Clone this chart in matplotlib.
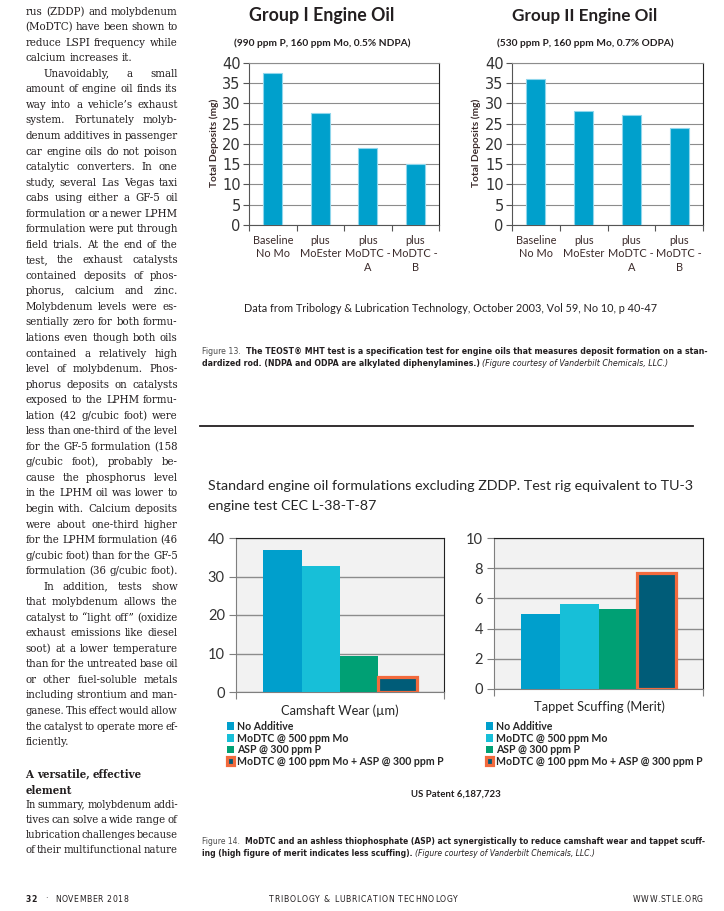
import matplotlib
matplotlib.use('Agg')
import matplotlib.pyplot as plt
from matplotlib import font_manager as fm

# ---- data ----
top_categories = ['Baseline\nNo Mo', 'plus\nMoEster', 'plus\nMoDTC -\nA', 'plus\nMoDTC -\nB']
group1_deposits = [37.5, 27.5, 19, 15]
group2_deposits = [36, 28, 27, 24]

additives = ['No Additive', 'MoDTC @ 500 ppm Mo', 'ASP @ 300 ppm P',
             'MoDTC @ 100 ppm Mo + ASP @ 300 ppm P']
camshaft_wear = [37, 32.7, 9.3, 3.9]
tappet_scuffing = [5.0, 5.6, 5.3, 7.7]

W, H = 724, 911
fig = plt.figure(figsize=(W / 100, H / 100), dpi=100)
fig.patch.set_facecolor('white')
r = fig.canvas.get_renderer()


def condensed(name):
    for f in fm.fontManager.ttflist:
        if f.name == name and f.stretch in ('condensed', 'semi-condensed'):
            return dict(family=name, stretch=f.stretch)
    return None


SERIF = condensed('DejaVu Serif') or dict(family='Liberation Serif')
NARROW = condensed('DejaVu Sans') or dict(family='Liberation Sans')
names = {f.name for f in fm.fontManager.ttflist}
CHART = 'Lato' if 'Lato' in names else 'DejaVu Sans'
INK = '#231f20'


def fx(x):
    return x / W


def fy(y):
    return 1 - y / H


def rect(l, t, rgt, b):
    return [fx(l), fy(b), (rgt - l) / W, (b - t) / H]


def measure(s, **kw):
    t = fig.text(0, 0, s, **kw)
    w = t.get_window_extent(r).width
    t.remove()
    return w


def put(x, y, s, width=None, **kw):
    kw.setdefault('va', 'center')
    t = fig.text(fx(x), fy(y), s, **kw)
    if width:
        w = t.get_window_extent(r).width
        t.set_fontsize(t.get_fontsize() * width / w)
    return t


def space(size, font):
    return measure('a a', fontsize=size, **font) - measure('aa', fontsize=size, **font)


def runs(x, y, pieces, size, font, gaps=None):
    # pieces of differently styled text placed one after another
    sp = space(size, font)
    cx = x
    for i, (s, kw) in enumerate(pieces):
        t = fig.text(fx(cx), fy(y), s, fontsize=size, va='center', **font, **kw)
        cx += t.get_window_extent(r).width
        if i < len(pieces) - 1:
            cx += sp * (gaps[i] if gaps else 1)
    return cx - x


def runs_width(pieces, size, font, gaps=None):
    sp = space(size, font)
    tot = sum(measure(s, fontsize=size, **font, **kw) for s, kw in pieces)
    return tot + sp * (sum(gaps) if gaps else len(pieces) - 1)


def tracked(x0, x1, y, s, size, **kw):
    # letter-spaced caps spread between x0 and x1
    ws = [size * 0.45 if ch == ' ' else measure(ch, fontsize=size, **kw) for ch in s]
    track = max((x1 - x0 - sum(ws)) / max(len(s) - 1, 1), 0.4)
    cx = x0
    for ch, w in zip(s, ws):
        if ch != ' ':
            fig.text(fx(cx), fy(y), ch, fontsize=size, va='center', **kw)
        cx += w + track


# ---- left text column ----
col_l, col_r = 25.5, 177.7
body = [
    ("rus (ZDDP) and molybdenum", 1, 0),
    ("(MoDTC) have been shown to", 1, 0),
    ("reduce LSPI frequency while", 1, 0),
    ("calcium increases it.", 0, 0),
    ("Unavoidably, a small", 1, 18),
    ("amount of engine oil finds its", 1, 0),
    ("way into a vehicle\u2019s exhaust", 1, 0),
    ("system. Fortunately molyb-", 1, 0),
    ("denum additives in passenger", 1, 0),
    ("car engine oils do not poison", 1, 0),
    ("catalytic converters. In one", 1, 0),
    ("study, several Las Vegas taxi", 1, 0),
    ("cabs using either a GF-5 oil", 1, 0),
    ("formulation or a newer LPHM", 1, 0),
    ("formulation were put through", 1, 0),
    ("field trials. At the end of the", 1, 0),
    ("test, the exhaust catalysts", 1, 0),
    ("contained deposits of phos-", 1, 0),
    ("phorus, calcium and zinc.", 1, 0),
    ("Molybdenum levels were es-", 1, 0),
    ("sentially zero for both formu-", 1, 0),
    ("lations even though both oils", 1, 0),
    ("contained a relatively high", 1, 0),
    ("level of molybdenum. Phos-", 1, 0),
    ("phorus deposits on catalysts", 1, 0),
    ("exposed to the LPHM formu-", 1, 0),
    ("lation (42 g/cubic foot) were", 1, 0),
    ("less than one-third of the level", 1, 0),
    ("for the GF-5 formulation (158", 1, 0),
    ("g/cubic foot), probably be-", 1, 0),
    ("cause the phosphorus level", 1, 0),
    ("in the LPHM oil was lower to", 1, 0),
    ("begin with. Calcium deposits", 1, 0),
    ("were about one-third higher", 1, 0),
    ("for the LPHM formulation (46", 1, 0),
    ("g/cubic foot) than for the GF-5", 1, 0),
    ("formulation (36 g/cubic foot).", 1, 0),
    ("In addition, tests show", 1, 18),
    ("that molybdenum allows the", 1, 0),
    ("catalyst to \u201clight off\u201d (oxidize", 1, 0),
    ("exhaust emissions like diesel", 1, 0),
    ("soot) at a lower temperature", 1, 0),
    ("than for the untreated base oil", 1, 0),
    ("or other fuel-soluble metals", 1, 0),
    ("including strontium and man-", 1, 0),
    ("ganese. This effect would allow", 1, 0),
    ("the catalyst to operate more ef-", 1, 0),
    ("ficiently.", 0, 0),
]
summary = ["In summary, molybdenum addi-", "tives can solve a wide range of",
           "lubrication challenges because", "of their multifunctional nature"]

ref = 10
sp10 = space(ref, SERIF)
fits = []
for s, j, ind in body + [(t, 1, 0) for t in summary]:
    if not j:
        continue
    words = s.split()
    nat = sum(measure(w, fontsize=ref, **SERIF) for w in words) + sp10 * (len(words) - 1)
    fits.append(ref * (col_r - col_l - ind) / nat)
fits.sort()
bsize = min(fits[len(fits) // 2], 8.2)


def body_line(y, s, justify, indent, weight='normal'):
    words = s.split()
    size = bsize
    ws = [measure(w, fontsize=size, weight=weight, **SERIF) for w in words]
    sp = sp10 * size / ref
    avail = col_r - col_l - indent
    if justify and sum(ws) + 0.55 * sp * (len(words) - 1) > avail:
        size = size * avail / (sum(ws) + 0.55 * sp * (len(words) - 1))
        ws = [measure(w, fontsize=size, weight=weight, **SERIF) for w in words]
    if justify and len(words) > 1:
        gap = (avail - sum(ws)) / (len(words) - 1)
    else:
        gap = sp
    cx = col_l + indent
    for w, wd in zip(words, ws):
        fig.text(fx(cx), fy(y), w, fontsize=size, weight=weight, color=INK, va='center',
                 **SERIF)
        cx += wd + gap


for k, (s, j, ind) in enumerate(body):
    body_line(11.7 + k * 15.54, s, j, ind)
body_line(774, "A versatile, effective", 0, 0, weight='bold')
body_line(790, "element", 0, 0, weight='bold')
for k, s in enumerate(summary):
    body_line(804.5 + k * 15.3, s, 1, 0)

# ---- Figure 13: two TEOST bar charts ----
BAR = '#00a0cc'
tick_col = '#3b2a2a'


def teost(ax, values, title, sub, cx, ylab_x):
    ax.bar(range(len(values)), values, width=0.4, color=BAR, edgecolor='#8fd6ec',
           linewidth=0.8, zorder=3)
    ax.set_xlim(-0.5, len(values) - 0.5)
    ax.set_ylim(0, 40)
    ax.set_yticks(range(0, 41, 5))
    ax.grid(axis='y', color='#8c8c8c', linewidth=0.8, zorder=0)
    ax.set_xticks([i - 0.5 for i in range(len(values) + 1)])
    ax.set_xticklabels([])
    ax.set_xticks(range(len(values)), minor=True)
    ax.set_xticklabels(top_categories, minor=True, fontsize=7.9, family=CHART,
                       color=tick_col, linespacing=1.3)
    ax.tick_params(axis='x', which='minor', length=0, pad=7)
    ax.tick_params(axis='x', which='major', length=4, color='#555555', direction='out')
    ax.tick_params(axis='y', length=4, color='#555555', labelsize=10.5, labelcolor='#333333',
                   pad=2)
    for lab in ax.get_yticklabels():
        lab.set_family('DejaVu Sans')
    ax.spines['left'].set_color('#555555')
    ax.spines['bottom'].set_color('#555555')
    ax.spines['right'].set_color('#222222')
    ax.spines['top'].set_color('#8c8c8c')
    put(cx, 16, title, width=145, family=CHART, weight='bold', fontsize=13,
        ha='center', color=INK)
    put(cx, 43, sub, width=177, family=CHART, weight='bold', fontsize=7,
        ha='center', color=INK)
    t = fig.text(fx(ylab_x), fy(143), 'Total Deposits (mg)', rotation=90, ha='center',
                 va='center', family=CHART, weight='bold', fontsize=7.5, color=tick_col)
    h = t.get_window_extent(r).height
    t.set_fontsize(7.5 * 87 / h)


ax1 = fig.add_axes(rect(249, 62.7, 439, 225))
teost(ax1, group1_deposits, 'Group I Engine Oil', '(990 ppm P, 160 ppm Mo, 0.5% NDPA)',
      322, 214)
ax2 = fig.add_axes(rect(512, 62.7, 703, 225))
teost(ax2, group2_deposits, 'Group II Engine Oil', '(530 ppm P, 160 ppm Mo, 0.7% ODPA)',
      585, 476)

put(451, 308, 'Data from Tribology & Lubrication Technology, October 2003, Vol 59, No 10, p 40-47',
    width=412, family=CHART, fontsize=8.5, ha='center', color=INK)

cap1 = [('Figure 13.', dict(color='#4d4d4d')),
        ('The TEOST\u00ae MHT test is a specification test for engine oils that measures deposit formation on a stan-',
         dict(weight='bold', color=INK))]
cap_size = 10 * 503 / runs_width(cap1, 10, NARROW, gaps=[2])
runs(202, 352, cap1, cap_size, NARROW, gaps=[2])
runs(202, 363.5, [('dardized rod. (NDPA and ODPA are alkylated diphenylamines.)',
                   dict(weight='bold', color=INK)),
                  ('(Figure courtesy of Vanderbilt Chemicals, LLC.)',
                   dict(style='italic', color=INK))], cap_size, NARROW)

fig.add_artist(plt.Line2D([fx(200), fx(693)], [fy(426), fy(426)], color=INK, linewidth=1.3))

# ---- Figure 14: camshaft wear / tappet scuffing ----
t13 = put(208, 485.5, 'Standard engine oil formulations excluding ZDDP. Test rig equivalent to TU-3',
          width=483, family=CHART, fontsize=11, color='#262626')
put(208, 505.5, 'engine test CEC L-38-T-87', family=CHART, fontsize=t13.get_fontsize(),
    color='#262626')

colors = ['#009fcc', '#17bfd8', '#00a074', '#005c78']
bw = 0.185


def wear(ax, values, ylim, step, xlabel, lab_cx, lab_y, lab_w, leg_x):
    xs = [(i - 1.5) * bw for i in range(len(values))]
    bars = ax.bar(xs, values, width=bw, color=colors, zorder=3, linewidth=0)
    bars[-1].set_edgecolor('#f26a3d')
    bars[-1].set_linewidth(2.3)
    ax.set_facecolor('#f2f2f2')
    ax.set_xlim(-0.5, 0.5)
    ax.set_ylim(0, ylim)
    ax.set_yticks(range(0, ylim + 1, step))
    ax.grid(axis='y', color='#8c8c8c', linewidth=1, zorder=0)
    ax.set_xticks([-0.5, 0.5])
    ax.set_xticklabels([])
    ax.tick_params(axis='x', length=5, color='#7f7f7f')
    ax.tick_params(axis='y', length=5, color='#7f7f7f', labelsize=10.5, labelcolor='#333333',
                   pad=3)
    for lab in ax.get_yticklabels():
        lab.set_family(CHART)
    for s in ('left', 'bottom'):
        ax.spines[s].set_color('#7f7f7f')
    for s in ('top', 'right'):
        ax.spines[s].set_color('#222222')
    put(lab_cx, lab_y, xlabel, width=lab_w, family=CHART, fontsize=10.5, ha='center',
        color='#262626')
    ax.legend(bars.patches, additives, loc='upper left',
              bbox_to_anchor=(fx(leg_x), fy(721)), bbox_transform=fig.transFigure,
              frameon=False, prop=dict(family=CHART, size=7.6, weight='bold'),
              handlelength=0.75, handleheight=0.75, handletextpad=0.25,
              labelspacing=0.05, borderpad=0, borderaxespad=0, labelcolor='#262626')


ax3 = fig.add_axes(rect(236, 538, 444, 692))
wear(ax3, camshaft_wear, 40, 10, 'Camshaft Wear (\u00b5m)', 340, 711, 119, 226.5)
ax4 = fig.add_axes(rect(494, 538, 703, 689))
wear(ax4, tappet_scuffing, 10, 2, 'Tappet Scuffing (Merit)', 599, 707, 132, 485.5)

put(456, 794, 'US Patent 6,187,723', width=90, family=CHART, fontsize=7, weight='bold',
    ha='center', color=INK)

cap2 = [('Figure 14.', dict(color='#4d4d4d')),
        ('MoDTC and an ashless thiophosphate (ASP) act synergistically to reduce camshaft wear and tappet scuff-',
         dict(weight='bold', color=INK))]
cap2_size = 10 * 502 / runs_width(cap2, 10, NARROW, gaps=[2])
runs(202, 842, cap2, cap2_size, NARROW, gaps=[2])
runs(202, 853, [('ing (high figure of merit indicates less scuffing).', dict(weight='bold', color=INK)),
                ('(Figure courtesy of Vanderbilt Chemicals, LLC.)', dict(style='italic', color=INK))],
     cap2_size, NARROW)

# ---- footer ----
FOOT = dict(family='DejaVu Sans', color=INK)
tracked(26, 34, 899, '32', 5.6, weight='bold', **FOOT)
tracked(45, 47, 899, '\u00b7', 5.6, **FOOT)
tracked(55, 128, 899, 'NOVEMBER 2018', 5.6, **FOOT)
tracked(269, 458, 899, 'TRIBOLOGY & LUBRICATION TECHNOLOGY', 5.6, **FOOT)
tracked(633, 703, 899, 'WWW.STLE.ORG', 5.6, **FOOT)

fig.savefig('out.png', dpi=100)
